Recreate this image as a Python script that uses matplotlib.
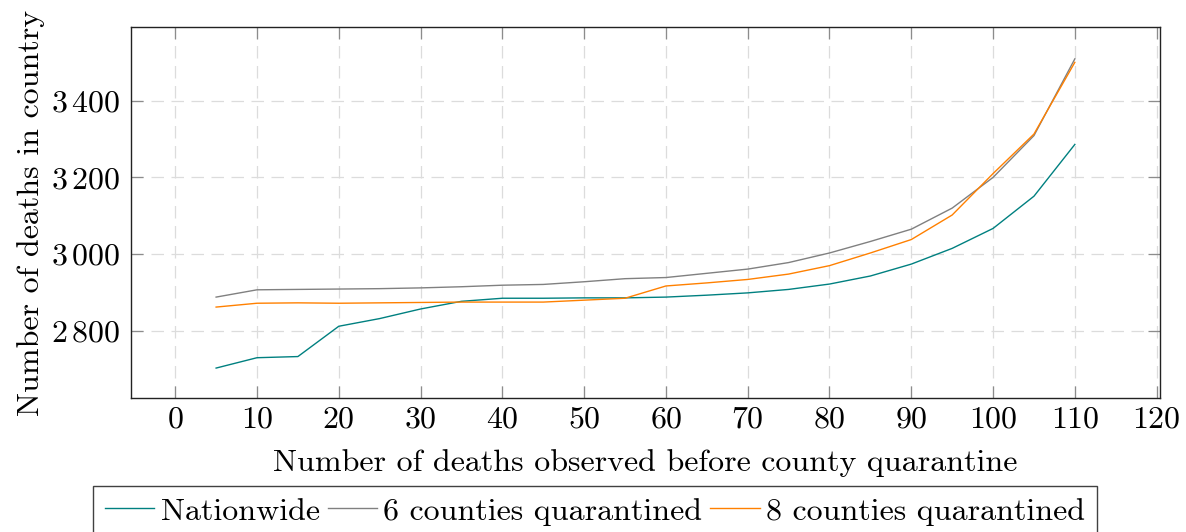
import matplotlib
matplotlib.use("Agg")
import matplotlib.pyplot as plt

# Deaths observed before county quarantine
observed = [5, 10, 15, 20, 25, 30, 35, 40, 45, 50, 55,
            60, 65, 70, 75, 80, 85, 90, 95, 100, 105, 110]

nationwide = [2703, 2730, 2733, 2812, 2832, 2857, 2877, 2885, 2885, 2886, 2886,
              2888, 2893, 2899, 2908, 2922, 2943, 2974, 3015, 3067, 3151, 3286]
six_counties = [2888, 2907, 2908, 2909, 2910, 2912, 2915, 2919, 2921, 2928, 2936,
                2939, 2950, 2961, 2978, 3003, 3033, 3065, 3120, 3200, 3309, 3509]
eight_counties = [2862, 2872, 2873, 2872, 2873, 2874, 2875, 2875, 2875, 2880, 2885,
                  2917, 2925, 2934, 2948, 2970, 3003, 3038, 3102, 3210, 3313, 3500]

x_ticks = list(range(0, 121, 10))
y_ticks = [2800, 3000, 3200, 3400]
y_tick_labels = [r"$2\,800$", r"$3\,000$", r"$3\,200$", r"$3\,400$"]

plt.rcParams["font.family"] = "cmr10"
plt.rcParams["mathtext.fontset"] = "cm"
plt.rcParams["axes.formatter.use_mathtext"] = True

FS = 23

fig = plt.figure(figsize=(11.86, 5.32), dpi=100)
ax = fig.add_axes([0.1105, 0.2519, 0.978 - 0.1105, 0.9492 - 0.2519])

ax.plot(observed, nationwide, color="#008080", lw=1.0, label="Nationwide")
ax.plot(observed, six_counties, color="#808080", lw=1.0, label="6 counties quarantined")
ax.plot(observed, eight_counties, color="#ff8000", lw=1.0, label="8 counties quarantined")

ax.set_xlim(-5.4, 120.4)
ax.set_ylim(2625, 3592)

ax.set_xticks(x_ticks)
ax.set_xticklabels([f"${v}$" for v in x_ticks])
ax.set_yticks(y_ticks)
ax.set_yticklabels(y_tick_labels)

ax.grid(True, color="#dcdcdc", lw=0.9, linestyle=(0, (10, 6)))
ax.set_axisbelow(True)
ax.tick_params(direction="in", length=8.5, width=0.9, color="#8c8c8c",
               top=True, right=True, labelsize=FS)
ax.tick_params(axis="x", pad=6)
ax.tick_params(axis="y", pad=8)
for s in ax.spines.values():
    s.set_linewidth(1.0)
    s.set_color("#222222")

ax.set_xlabel("Number of deaths observed before county quarantine", fontsize=FS, labelpad=11)
ax.set_ylabel("Number of deaths in country", fontsize=FS, labelpad=4)

leg = fig.legend(loc="upper center", bbox_to_anchor=(595 / 1186, 1 - 486 / 532),
                 ncol=3, fontsize=FS, frameon=True, fancybox=False,
                 edgecolor="#111111", handlelength=1.55, handletextpad=0.2,
                 columnspacing=0.25, borderpad=0.35, borderaxespad=0)
leg.get_frame().set_linewidth(1.0)

fig.savefig("out.png", dpi=100)
